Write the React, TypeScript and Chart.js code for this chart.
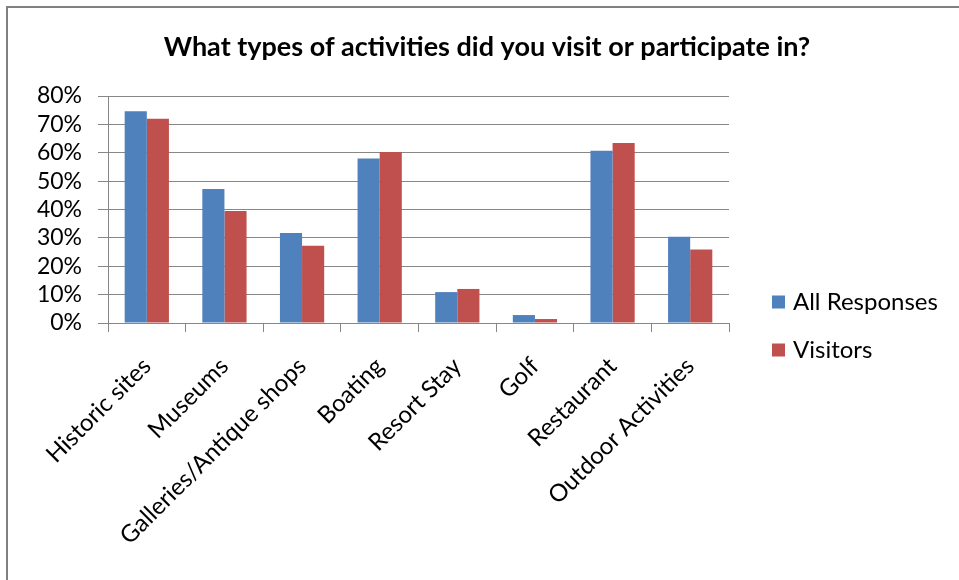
import React, { useEffect, useRef } from "react";
import { Chart, registerables } from "chart.js";

Chart.register(...registerables);

const TITLE = "What types of activities did you visit or participate in?";
const categories = [
  "Historic sites",
  "Museums",
  "Galleries/Antique shops",
  "Boating",
  "Resort Stay",
  "Golf",
  "Restaurant",
  "Outdoor Activities",
];
const allResponses = [74.6, 47.2, 31.7, 58.0, 10.9, 2.8, 60.7, 30.4];
const visitors = [72.0, 39.5, 27.2, 60.3, 12.0, 1.4, 63.4, 25.9];
const seriesNames = ["All Responses", "Visitors"];
const seriesColors = ["#4F81BD", "#C0504D"];
const yTicks = [0, 10, 20, 30, 40, 50, 60, 70, 80];

const FONT = "Lato, 'Open Sans', sans-serif";
const GRID = "#878787";

const framePlugin = {
  id: "frame",
  afterDraw(chart: any) {
    const ctx = chart.ctx;
    ctx.save();
    ctx.strokeStyle = "#808080";
    ctx.lineWidth = 2;
    ctx.beginPath();
    ctx.moveTo(7, 580);
    ctx.lineTo(7, 7);
    ctx.lineTo(959, 7);
    ctx.stroke();
    // title
    ctx.fillStyle = "#000";
    ctx.font = `bold 27px ${FONT}`;
    ctx.textAlign = "center";
    ctx.textBaseline = "middle";
    ctx.fillText(TITLE, 487, 47);
    // legend
    const items = chart.data.datasets;
    const ys = [302, 350];
    ctx.font = `24px ${FONT}`;
    ctx.textBaseline = "middle";
    ctx.textAlign = "left";
    items.forEach((ds: any, i: number) => {
      ctx.fillStyle = ds.backgroundColor;
      ctx.fillRect(772, ys[i] - 6.5, 13, 13);
      ctx.fillStyle = "#000";
      ctx.fillText(ds.label, 793, ys[i]);
    });
    ctx.restore();
  },
};

export default function App() {
  const ref = useRef<HTMLCanvasElement | null>(null);
  useEffect(() => {
    if (!ref.current) return;
    const chart = new Chart(ref.current, {
      type: "bar",
      data: {
        labels: categories,
        datasets: [
          {
            label: seriesNames[0],
            data: allResponses,
            backgroundColor: seriesColors[0],
            borderWidth: 0,
          },
          {
            label: seriesNames[1],
            data: visitors,
            backgroundColor: seriesColors[1],
            borderWidth: 0,
          },
        ],
      },
      options: {
        responsive: false,
        animation: false,
        devicePixelRatio: 1,
        layout: { padding: { left: 0, right: 230, top: 96, bottom: 0 } },
        datasets: { bar: { categoryPercentage: 0.57, barPercentage: 1 } },
        plugins: {
          legend: { display: false },
          tooltip: { enabled: false },
          title: { display: false },
        },
        scales: {
          x: {
            afterFit: (s: any) => {
              s.height = 580 - 323;
            },
            grid: {
              offset: true,
              drawOnChartArea: false,
              drawTicks: true,
              tickLength: 9,
              color: GRID,
            },
            border: { color: GRID, width: 1 },
            ticks: {
              autoSkip: false,
              minRotation: 45,
              maxRotation: 45,
              color: "#000",
              font: { family: FONT, size: 24 },
              padding: 20,
            },
          },
          y: {
            min: 0,
            max: 80,
            afterFit: (s: any) => {
              s.width = 108;
            },
            afterBuildTicks: (s: any) => {
              s.ticks = yTicks.map((v) => ({ value: v }));
            },
            grid: { color: GRID, tickLength: 10, lineWidth: 1 },
            border: { color: GRID, width: 1 },
            ticks: {
              autoSkip: false,
              stepSize: 10,
              color: "#000",
              font: { family: FONT, size: 23 },
              padding: 16,
              callback: (v: any) => `${v}%`,
            },
          },
        },
      },
      plugins: [framePlugin],
    });
    return () => chart.destroy();
  }, []);
  return (
    <div style={{ position: "fixed", left: 0, top: 0, width: 959, height: 580, background: "#fff" }}>
      <canvas ref={ref} width={959} height={580} />
    </div>
  );
}
